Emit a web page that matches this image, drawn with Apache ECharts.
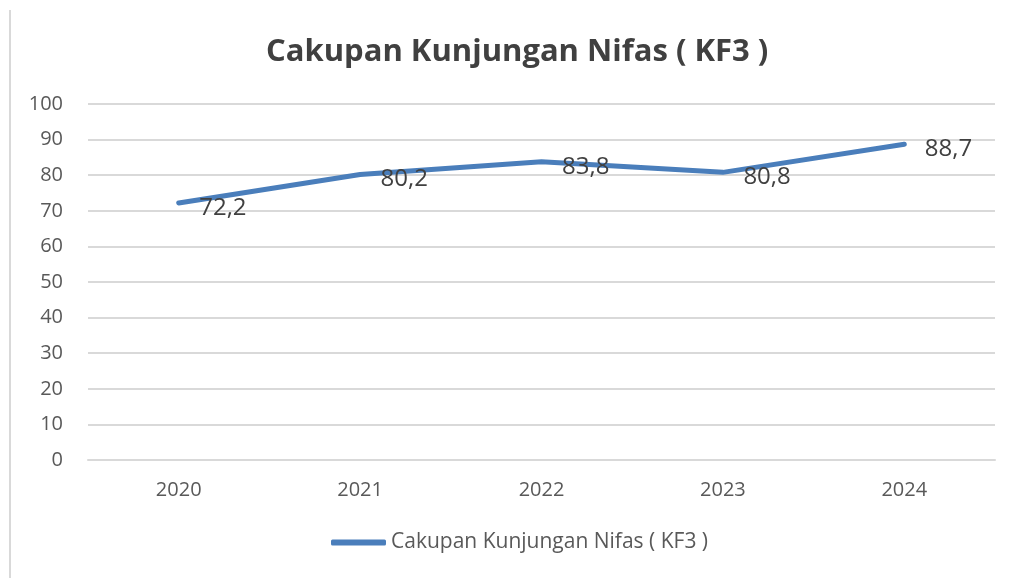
<!DOCTYPE html>
<html lang="en">
  <head>
    <meta charset="UTF-8" />
    <title>Cakupan Kunjungan Nifas</title>
    <script src="https://cdn.jsdelivr.net/npm/echarts@6/dist/echarts.min.js"></script>
    <style>
      body{margin:0;padding:0;background:#fff;}
      #chart{width:1016px;height:578px;}
    </style>
  </head>
  <body>
    <div id="chart"></div>
    <script>
      // data
      var years = ['2020', '2021', '2022', '2023', '2024'];
      var coverage = [72.2, 80.2, 83.8, 80.8, 88.7];
      var seriesName = 'Cakupan Kunjungan Nifas ( KF3 )';

      var myChart = echarts.init(document.getElementById('chart'));
      var font = 'Open Sans, Liberation Sans, sans-serif';

      var option = {
        animation: false,
        textStyle: {fontFamily: font},
        title: {
          text: 'Cakupan Kunjungan Nifas ( KF3 )',
          left: 261,
          top: 32,
          textStyle: {fontSize: 31, fontWeight: 'bold', color: '#404040', fontFamily: font}
        },
        graphic: [{
          type: 'line',
          shape: {x1: 10, y1: 10, x2: 10, y2: 578},
          style: {stroke: '#d9d9d9', lineWidth: 2}
        }],
        grid: {left: 88, right: 21, top: 104, bottom: 118},
        legend: {
          bottom: 20,
          left: 326,
          itemWidth: 55,
          itemHeight: 6,
          itemGap: 4,
          icon: 'roundRect',
          textStyle: {fontSize: 21, color: '#595959', fontFamily: font},
          data: [seriesName]
        },
        xAxis: {
          type: 'category',
          data: years,
          axisLine: {lineStyle: {color: '#d9d9d9', width: 2}},
          axisTick: {show: false},
          axisLabel: {fontSize: 20, color: '#595959', margin: 20}
        },
        yAxis: {
          type: 'value',
          min: 0,
          max: 100,
          interval: 10,
          axisLine: {show: false},
          axisTick: {show: false},
          splitLine: {lineStyle: {color: '#d9d9d9', width: 2}},
          axisLabel: {fontSize: 20, color: '#595959', margin: 25}
        },
        series: [{
          name: seriesName,
          type: 'line',
          data: coverage,
          showSymbol: true,
          symbol: 'circle',
          symbolSize: 1,
          lineStyle: {color: '#4a7ebb', width: 5, cap: 'round'},
          itemStyle: {color: '#4a7ebb'},
          label: {
            show: true,
            position: 'right',
            distance: 20,
            offset: [0, 5],
            fontSize: 24,
            color: '#404040',
            formatter: function (p) { return String(p.value).replace('.', ','); }
          }
        }]
      };
      myChart.setOption(option);
    </script>
  </body>
</html>
